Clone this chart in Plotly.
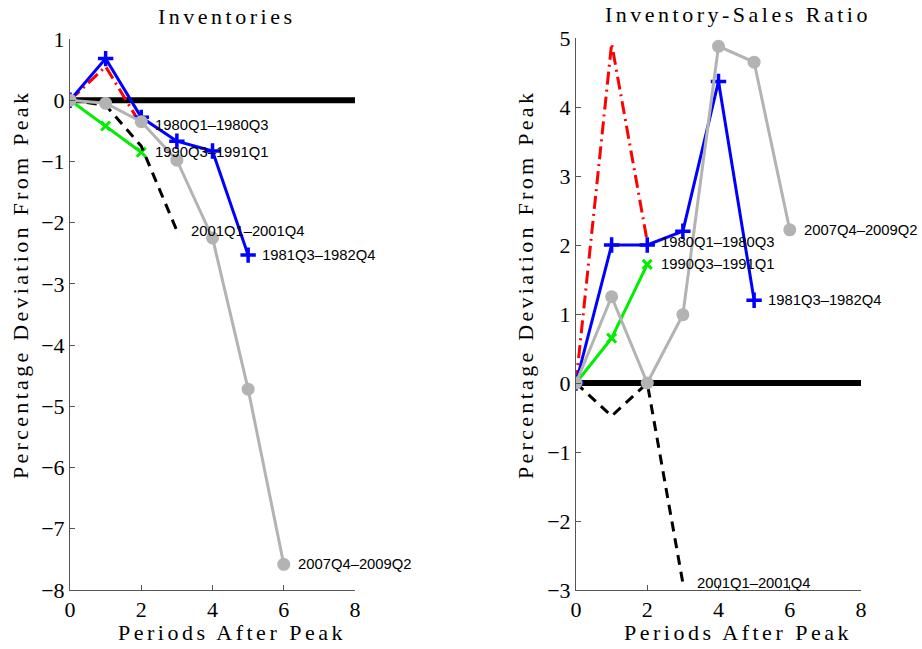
import plotly.graph_objects as go

periods = [0, 1, 2, 3, 4, 5, 6]

series_names = ["1980Q1–1980Q3", "1981Q3–1982Q4", "1990Q3–1991Q1", "2001Q1–2001Q4", "2007Q4–2009Q2"]

# Inventories (percentage deviation from peak)
inv_1980 = [0, 0.55, -0.41]
inv_1981 = [0, 0.68, -0.28, -0.67, -0.83, -2.53]
inv_1990 = [0, -0.42, -0.85]
inv_2001 = [0, -0.08, -0.75, -2.13]
inv_2007 = [0, -0.05, -0.35, -0.98, -2.25, -4.72, -7.58]

# Inventory-sales ratio (percentage deviation from peak)
isr_1980 = [0, 4.92, 2.05]
isr_1981 = [0, 2.0, 2.0, 2.2, 4.37, 1.2]
isr_1990 = [0, 0.65, 1.72]
isr_2001 = [0, -0.48, 0.0, -2.9]
isr_2007 = [0, 1.25, 0.0, 0.99, 4.88, 4.65, 2.22]

zero_x = [0, 8]
zero_y = [0, 0]

left_ticks_y = list(range(-8, 2))
right_ticks_y = list(range(-3, 6))
ticks_x = [0, 2, 4, 6, 8]

W, H = 922, 649


def px(x):
    return x / W


def py(y):
    return 1 - y / H


styles = [
    dict(color="#ff0000", dash="13px,5px,2px,5px", marker=None),
    dict(color="#0000ff", dash="solid", marker=dict(symbol="cross-thin", size=11, line=dict(width=3.5, color="#0000ff"))),
    dict(color="#00ee00", dash="solid", marker=dict(symbol="x-thin", size=9, line=dict(width=3, color="#00ee00"))),
    dict(color="#000000", dash="10px,7px", marker=None),
    dict(color="#b3b3b3", dash="solid", marker=dict(symbol="circle", size=13, color="#b3b3b3")),
]

fig = go.Figure()

panels = [
    ("x", "y", [inv_1980, inv_1981, inv_1990, inv_2001, inv_2007]),
    ("x2", "y2", [isr_1980, isr_1981, isr_1990, isr_2001, isr_2007]),
]

annotations = []
for xa, ya, data in panels:
    fig.add_trace(go.Scatter(x=zero_x, y=zero_y, mode="lines", line=dict(color="black", width=6),
                             xaxis=xa, yaxis=ya, showlegend=False, hoverinfo="skip"))
    for name, vals, st in zip(series_names, data, styles):
        xs = periods[:len(vals)]
        if st["marker"] is None:
            fig.add_trace(go.Scatter(x=xs, y=vals, mode="lines", name=name,
                                     line=dict(color=st["color"], width=3, dash=st["dash"]),
                                     xaxis=xa, yaxis=ya, showlegend=False))
        else:
            fig.add_trace(go.Scatter(x=xs, y=vals, mode="lines+markers", name=name,
                                     line=dict(color=st["color"], width=3, dash=st["dash"]),
                                     marker=st["marker"],
                                     xaxis=xa, yaxis=ya, showlegend=False))
        annotations.append(dict(x=xs[-1], y=vals[-1], xref=xa, yref=ya, text=name, showarrow=False,
                                xanchor="left", yanchor="middle", xshift=12,
                                font=dict(family="Liberation Sans, Arial", size=14.8, color="black")))

serif = "Liberation Serif, Times New Roman, serif"
axis_common = dict(showgrid=False, zeroline=False, showline=True, linecolor="#555555", linewidth=1,
                   ticks="inside", ticklen=5, tickcolor="#555555", mirror=False,
                   tickfont=dict(family=serif, size=22, color="black"))

fig.update_layout(
    width=W, height=H, autosize=False,
    margin=dict(l=0, r=0, t=0, b=0, autoexpand=False),
    paper_bgcolor="white", plot_bgcolor="white",
    xaxis=dict(domain=[px(70), px(355)], range=[0, 8], tickvals=ticks_x, anchor="y", **axis_common),
    yaxis=dict(domain=[py(590), py(39)], range=[-8, 1], tickvals=left_ticks_y, anchor="x", **axis_common),
    xaxis2=dict(domain=[px(576), px(861)], range=[0, 8], tickvals=ticks_x, anchor="y2", **axis_common),
    yaxis2=dict(domain=[py(590), py(38)], range=[-3, 5], tickvals=right_ticks_y, anchor="x2", **axis_common),
)

label_font = dict(family=serif, size=22, color="black")


def spaced(t, sp):
    return '<span style="letter-spacing:%spx">%s</span>' % (sp, t)


annotations += [
    dict(text=spaced("Inventories", 3.5), x=px(226), y=py(17), xref="paper", yref="paper",
         showarrow=False, xanchor="center", yanchor="middle", font=label_font),
    dict(text=spaced("Inventory-Sales Ratio", 3.5), x=px(738), y=py(15), xref="paper", yref="paper",
         showarrow=False, xanchor="center", yanchor="middle", font=label_font),
    dict(text=spaced("Periods After Peak", 3.5), x=px(232), y=py(632), xref="paper", yref="paper",
         showarrow=False, xanchor="center", yanchor="middle", font=label_font),
    dict(text=spaced("Periods After Peak", 3.5), x=px(738), y=py(632), xref="paper", yref="paper",
         showarrow=False, xanchor="center", yanchor="middle", font=label_font),
    dict(text=spaced("Percentage Deviation From Peak", 3.3), x=px(20), y=py(285), xref="paper", yref="paper",
         showarrow=False, xanchor="center", yanchor="middle", textangle=-90, font=label_font),
    dict(text=spaced("Percentage Deviation From Peak", 3.3), x=px(525), y=py(285), xref="paper", yref="paper",
         showarrow=False, xanchor="center", yanchor="middle", textangle=-90, font=label_font),
]
fig.update_layout(annotations=annotations)

fig.write_html("out.html",
               config={"displayModeBar": False},
               post_script="document.body.style.margin='0px';document.body.style.padding='0px';")
